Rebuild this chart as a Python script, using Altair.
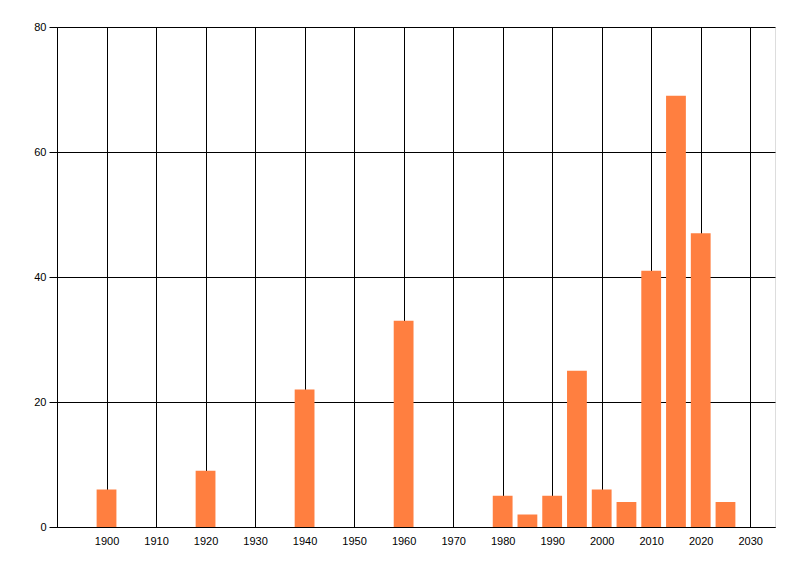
import altair as alt
import pandas as pd

years = [1900, 1920, 1940, 1960, 1980, 1985, 1990, 1995, 2000, 2005, 2010, 2015, 2020, 2025]
values = [6, 9, 22, 33, 5, 2, 5, 25, 6, 4, 41, 69, 47, 4]
x_ticks = [1890, 1900, 1910, 1920, 1930, 1940, 1950, 1960, 1970, 1980, 1990, 2000, 2010, 2020, 2030]
y_ticks = [0, 20, 40, 60, 80]

df = pd.DataFrame({"year": years, "value": values})
df["x0"] = df["year"] - 2
df["x1"] = df["year"] + 2
df["base"] = 0

FONT = "Liberation Sans"

chart = alt.Chart(df).mark_bar(color="#FF7F40").encode(
    x=alt.X("x0:Q", scale=alt.Scale(domain=[1890, 2035], nice=False, zero=False, padding=0),
            axis=alt.Axis(values=x_ticks, format="d", title=None, grid=True,
                          gridColor="black", gridOpacity=1, gridWidth=1,
                          ticks=False, tickSize=0, domainColor="black", domainWidth=1,
                          labelFont=FONT, labelFontSize=11, labelColor="black",
                          labelPadding=8,
                          labelExpr="datum.value == 1890 ? '' : datum.label")),
    x2="x1:Q",
    y=alt.Y("value:Q", scale=alt.Scale(domain=[0, 80], nice=False, padding=0),
            axis=alt.Axis(values=y_ticks, title=None, grid=True,
                          gridColor="black", gridOpacity=1, gridWidth=1,
                          ticks=True, tickSize=8, tickColor="black", tickWidth=1,
                          domainColor="black", domainWidth=1,
                          labelFont=FONT, labelFontSize=11, labelColor="black",
                          labelPadding=3)),
    y2="base:Q",
).properties(
    width=718, height=500,
    autosize=alt.AutoSizeParams(type="none"),
    padding={"left": 49, "top": 19, "right": 10, "bottom": 40},
).configure_view(stroke=None).configure(background="white")

chart.save("out.html", embed_options={"renderer": "svg", "actions": False})
